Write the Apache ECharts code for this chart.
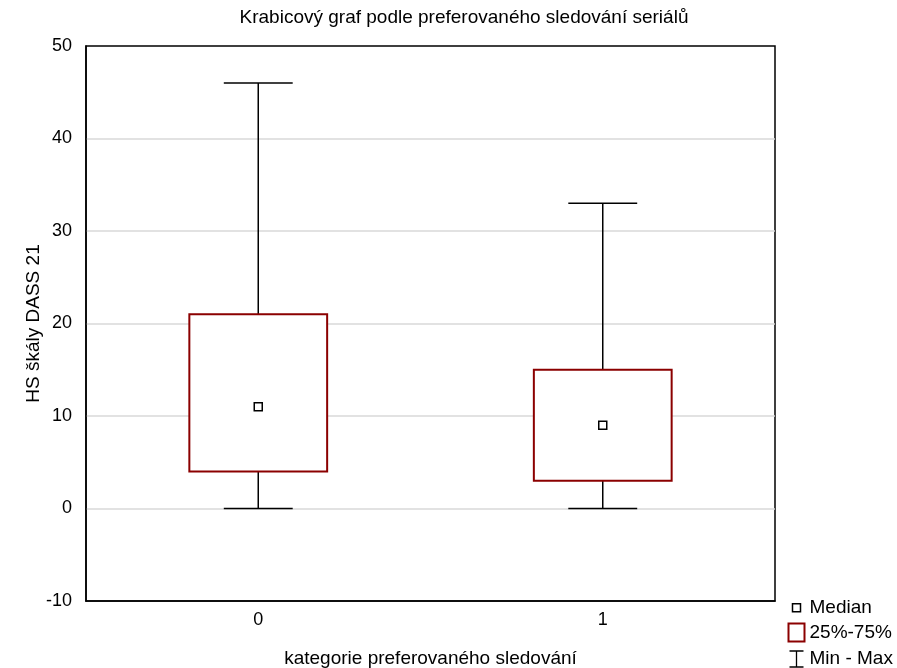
<!DOCTYPE html>
<html>
<head>
<meta charset="utf-8">
<script src="https://cdn.jsdelivr.net/npm/echarts@6/dist/echarts.min.js"></script>
<style>
  html, body { margin: 0; padding: 0; background: #fff; }
  #chart { width: 897px; height: 668px; }
</style>
</head>
<body>
<div id="chart"></div>
<script>
// data
const categories = ['0', '1'];
const minVals = [0, 0];
const q1Vals = [4, 3];
const medianVals = [11, 9];
const q3Vals = [21, 15];
const maxVals = [46, 33];
const yTicks = { min: -10, max: 50, interval: 10 };

const font = 'Liberation Sans, Arial, sans-serif';
const boxColor = '#8B0000';

const chart = echarts.init(document.getElementById('chart'));

// whiskers + caps (min - max)
function whiskerItem(params, api) {
  const i = api.value(0);
  const lo = api.coord([i, api.value(1)]);
  const q1 = api.coord([i, api.value(2)]);
  const q3 = api.coord([i, api.value(3)]);
  const hi = api.coord([i, api.value(4)]);
  const band = api.size([1, 0])[0];
  const cap = band * 0.2;
  const x = lo[0];
  const st = { stroke: '#000', lineWidth: 1.5 };
  return {
    type: 'group',
    children: [
      { type: 'line', shape: { x1: x, y1: hi[1], x2: x, y2: q3[1] }, style: st },
      { type: 'line', shape: { x1: x, y1: q1[1], x2: x, y2: lo[1] }, style: st },
      { type: 'line', shape: { x1: x - cap / 2, y1: hi[1], x2: x + cap / 2, y2: hi[1] }, style: st },
      { type: 'line', shape: { x1: x - cap / 2, y1: lo[1], x2: x + cap / 2, y2: lo[1] }, style: st }
    ]
  };
}

// 25%-75% box
function boxItem(params, api) {
  const i = api.value(0);
  const q1 = api.coord([i, api.value(1)]);
  const q3 = api.coord([i, api.value(2)]);
  const band = api.size([1, 0])[0];
  const w = band * 0.4;
  return {
    type: 'rect',
    shape: { x: q1[0] - w / 2, y: q3[1], width: w, height: q1[1] - q3[1] },
    style: { fill: '#fff', stroke: boxColor, lineWidth: 2 }
  };
}

const option = {
  backgroundColor: '#fff',
  animation: false,
  title: {
    text: 'Krabicový graf podle preferovaného sledování seriálů',
    left: 459,
    textAlign: 'center',
    top: 3,
    textStyle: { fontFamily: font, fontSize: 19, fontWeight: 'normal', color: '#000' }
  },
  legend: {
    orient: 'vertical',
    left: 786,
    top: 598,
    height: 90,
    padding: 0,
    itemGap: 5,
    itemWidth: 16,
    itemHeight: 18,
    textStyle: { fontFamily: font, fontSize: 19, color: '#000' },
    data: [
      { name: 'Median', icon: 'path://M0,0M16,18M4,5H12V13H4Z', itemStyle: { color: '#fff', borderColor: '#000', borderWidth: 1.5 } },
      { name: '25%-75%', icon: 'path://M0,0H16V18H0Z', itemStyle: { color: '#fff', borderColor: boxColor, borderWidth: 2 } },
      { name: 'Min - Max', icon: 'path://M0,0M16,18M1,1H15M8,1V17M1,17H15', itemStyle: { color: 'none', borderColor: '#000', borderWidth: 1.3 } }
    ]
  },
  grid: {
    left: 86, right: 122, top: 46, bottom: 67,
    outerBoundsMode: 'none',
    show: true, borderColor: '#000', borderWidth: 1.5
  },
  xAxis: {
    type: 'category',
    data: categories,
    boundaryGap: true,
    name: 'kategorie preferovaného sledování',
    nameLocation: 'middle',
    nameGap: 48,
    nameMoveOverlap: false,
    nameTextStyle: { fontFamily: font, fontSize: 19, color: '#000' },
    axisLine: { onZero: false, lineStyle: { color: '#000', width: 1.5 } },
    axisTick: { alignWithLabel: true, inside: true, length: 3, lineStyle: { color: '#000' } },
    axisLabel: { fontFamily: font, fontSize: 18, color: '#000', margin: 10 },
    splitLine: { show: false }
  },
  yAxis: {
    type: 'value',
    min: yTicks.min,
    max: yTicks.max,
    interval: yTicks.interval,
    name: 'HS škály DASS 21',
    nameLocation: 'middle',
    nameGap: 43,
    nameMoveOverlap: false,
    nameTextStyle: { fontFamily: font, fontSize: 19, color: '#000' },
    axisLine: { show: true, lineStyle: { color: '#000', width: 1.5 } },
    axisTick: { show: false },
    axisLabel: { fontFamily: font, fontSize: 18, color: '#000', margin: 14 },
    splitLine: { show: true, showMinLine: false, showMaxLine: false, lineStyle: { color: '#d9d9d9', width: 1.5 } }
  },
  series: [
    {
      name: 'Min - Max',
      type: 'custom',
      renderItem: whiskerItem,
      encode: { x: 0, y: [1, 2, 3, 4] },
      data: categories.map((c, i) => [i, minVals[i], q1Vals[i], q3Vals[i], maxVals[i]]),
      z: 1
    },
    {
      name: '25%-75%',
      type: 'custom',
      renderItem: boxItem,
      encode: { x: 0, y: [1, 2] },
      data: categories.map((c, i) => [i, q1Vals[i], q3Vals[i]]),
      z: 2
    },
    {
      name: 'Median',
      type: 'scatter',
      symbol: 'rect',
      symbolSize: 8,
      itemStyle: { color: '#fff', borderColor: '#000', borderWidth: 1.5, opacity: 1 },
      data: categories.map((c, i) => [i, medianVals[i]]),
      z: 3
    }
  ]
};

chart.setOption(option);
</script>
</body>
</html>
